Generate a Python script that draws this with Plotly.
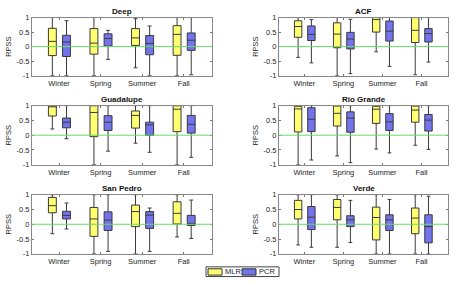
import plotly.graph_objects as go

seasons = ["Winter", "Spring", "Summer", "Fall"]
basins = ["Deep", "ACF", "Guadalupe", "Rio Grande", "San Pedro", "Verde"]
models = ["MLR", "PCR"]
y_ticks = [-1, -0.5, 0, 0.5, 1]

# stats per season: [lower whisker, q1, median, q3, upper whisker]
deep_mlr = [[-1, -0.31, 0.18, 0.63, 1], [-1, -0.26, 0.12, 0.62, 1], [-0.73, 0.04, 0.30, 0.62, 0.96], [-1, -0.30, 0.42, 0.72, 1]]
deep_pcr = [[-1, -0.34, 0.16, 0.39, 0.89], [-0.44, 0.02, 0.28, 0.44, 0.56], [-1, -0.28, 0.11, 0.38, 0.71], [-0.97, -0.13, 0.22, 0.47, 1]]
acf_mlr = [[-0.37, 0.32, 0.69, 0.89, 1], [-1, -0.04, 0.43, 0.82, 1], [-0.18, 0.50, 0.93, 1, 1], [-0.97, 0.14, 0.56, 1, 1]]
acf_pcr = [[-0.56, 0.21, 0.42, 0.71, 0.93], [-0.93, -0.08, 0.26, 0.49, 0.94], [-0.68, 0.19, 0.53, 0.88, 1], [-0.53, 0.16, 0.45, 0.62, 1]]
gua_mlr = [[0.21, 0.65, 0.96, 1, 1], [-1, -0.05, 0.77, 1, 1], [-0.27, 0.24, 0.67, 0.82, 1], [-1, 0.12, 0.88, 1, 1]]
gua_pcr = [[-0.12, 0.25, 0.44, 0.58, 1], [-0.54, 0.16, 0.44, 0.66, 1], [-0.58, -0.01, 0.35, 0.44, 1], [-0.75, 0.07, 0.37, 0.67, 1]]
rio_mlr = [[-1, 0.11, 0.89, 0.98, 1], [-0.70, 0.31, 0.74, 0.99, 1], [-0.47, 0.40, 0.88, 0.98, 1], [-0.34, 0.44, 0.85, 0.99, 1]]
rio_pcr = [[-0.84, 0.12, 0.54, 0.93, 1], [-0.93, 0.10, 0.58, 0.79, 1], [-0.60, 0.16, 0.45, 0.73, 1], [-0.48, 0.14, 0.51, 0.70, 1]]
sp_mlr = [[-0.32, 0.39, 0.63, 0.91, 1], [-1, -0.41, 0.18, 0.57, 1], [-1, -0.08, 0.43, 0.65, 1], [-0.43, 0.01, 0.37, 0.76, 1]]
sp_pcr = [[-0.16, 0.18, 0.30, 0.44, 0.72], [-0.92, -0.21, 0.14, 0.42, 1], [-0.92, -0.14, 0.31, 0.43, 0.55], [-0.48, -0.04, 0.03, 0.30, 0.82]]
verde_mlr = [[-0.70, 0.18, 0.50, 0.81, 1], [-0.78, 0.15, 0.57, 0.84, 1], [-1, -0.53, 0.23, 0.58, 1], [-1, -0.32, 0.21, 0.55, 1]]
verde_pcr = [[-0.78, -0.18, 0.24, 0.60, 1], [-0.62, -0.08, 0.15, 0.29, 0.81], [-1, -0.21, 0.15, 0.32, 0.84], [-1, -0.63, -0.08, 0.32, 0.95]]

basin_data = [(deep_mlr, deep_pcr), (acf_mlr, acf_pcr), (gua_mlr, gua_pcr),
              (rio_mlr, rio_pcr), (sp_mlr, sp_pcr), (verde_mlr, verde_pcr)]

W, H = 452, 283
col_px = [(32, 212), (279, 448)]
row_px = [(14, 74), (105, 166), (197, 258)]
fills = ["#FFFF70", "#7373EE"]
offsets = [-0.16, 0.18]
font_fam = "Liberation Sans, Arial, sans-serif"
txt_col = "#262626"

fig = go.Figure()
annotations = []
shapes = []
for i, name in enumerate(basins):
    r, c = divmod(i, 2)
    ax = "" if i == 0 else str(i + 1)
    xd = [col_px[c][0] / W, col_px[c][1] / W]
    yd = [1 - row_px[r][1] / H, 1 - row_px[r][0] / H]
    for m, stats in enumerate(basin_data[i]):
        fig.add_trace(go.Box(
            x=[k + 1 + offsets[m] for k in range(len(seasons))],
            lowerfence=[s[0] for s in stats],
            q1=[s[1] for s in stats],
            median=[s[2] for s in stats],
            q3=[s[3] for s in stats],
            upperfence=[s[4] for s in stats],
            width=0.19, whiskerwidth=0.5,
            fillcolor=fills[m], line=dict(color="#3a3a3a", width=1),
            name=models[m], showlegend=False,
            boxpoints=False, hoverinfo="skip",
            xaxis="x" + ax, yaxis="y" + ax,
        ))
    fig.layout["xaxis" + ax] = dict(
        domain=xd, anchor="y" + ax, range=[0.35, 4.68],
        tickvals=[1, 2, 3, 4], ticktext=seasons, ticks="inside", ticklen=2,
        tickcolor="#777", showline=True, mirror="ticks", linecolor="#888", linewidth=1,
        showgrid=False, zeroline=False, tickfont=dict(size=7.5, color=txt_col, family=font_fam),
    )
    fig.layout["yaxis" + ax] = dict(
        domain=yd, anchor="x" + ax, range=[-1, 1],
        tickvals=y_ticks, ticktext=[str(v) for v in y_ticks], ticks="inside", ticklen=2,
        tickcolor="#777", showline=True, mirror="ticks", linecolor="#888", linewidth=1,
        showgrid=False, zeroline=False, tickfont=dict(size=7.5, color=txt_col, family=font_fam),
        title=dict(text="RPSS", font=dict(size=7.5, color=txt_col, family=font_fam), standoff=3),
    )
    shapes.append(dict(type="line", xref=("x" + ax + " domain"), yref="y" + ax,
                       x0=0, x1=1, y0=0, y1=0, line=dict(color="#66DD66", width=1), layer="above"))
    annotations.append(dict(text="<b>%s</b>" % name, x=(xd[0] + xd[1]) / 2, y=yd[1],
                            xref="paper", yref="paper", xanchor="center", yanchor="bottom",
                            yshift=0, showarrow=False,
                            font=dict(size=8, color="#111", family=font_fam)))

# manual compact legend (pixel layout converted to paper coords)
def px(x):
    return x / W

def py(y):
    return 1 - y / H

shapes.append(dict(type="rect", xref="paper", yref="paper", x0=px(206), x1=px(279),
                   y0=py(281.5), y1=py(271.5), line=dict(color="#444", width=1),
                   fillcolor="white", layer="above"))
leg_x = [(208, 222, 223), (242, 256, 257)]
for m, (a, b, t) in enumerate(leg_x):
    shapes.append(dict(type="rect", xref="paper", yref="paper", x0=px(a), x1=px(b),
                       y0=py(280), y1=py(273.5), line=dict(color="#333", width=1),
                       fillcolor=fills[m], layer="above"))
    annotations.append(dict(text=models[m], x=px(t), y=py(276.8), xref="paper", yref="paper",
                            xanchor="left", yanchor="middle", showarrow=False,
                            font=dict(size=7.5, color=txt_col, family=font_fam)))

fig.update_layout(
    width=W, height=H, margin=dict(l=0, r=0, t=0, b=0),
    paper_bgcolor="white", plot_bgcolor="white", boxmode="overlay",
    shapes=shapes, annotations=annotations, showlegend=False,
    font=dict(family=font_fam, color=txt_col),
)
fig.write_html("out.html")
